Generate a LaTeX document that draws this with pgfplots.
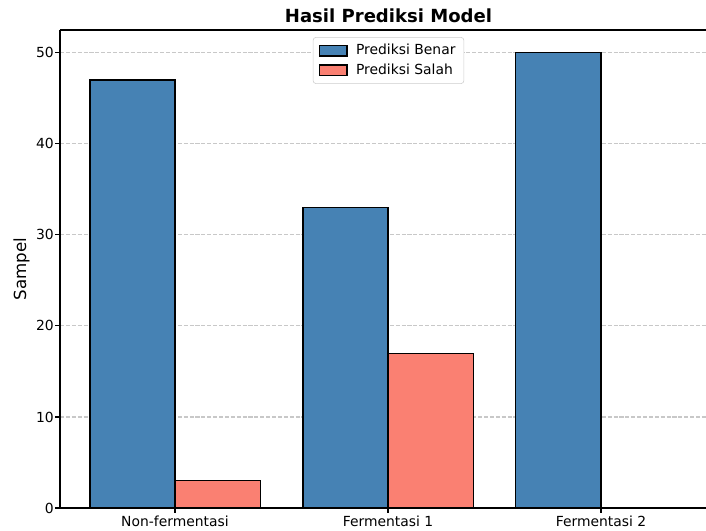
\documentclass[border=0pt]{standalone}
\usepackage{pgfplots}
\pgfplotsset{compat=1.18}
\usepackage{fontspec}
\setmainfont{DejaVu Sans}
\definecolor{steelblue}{RGB}{70,130,180}
\definecolor{salmon}{RGB}{250,128,114}
\definecolor{gridgray}{RGB}{200,200,200}
\pgfplotsset{mylegend/.style={legend image code/.code={\draw[##1, sharp corners, line width=0.8pt] (-2pt,-3.8pt) rectangle (18pt,3.8pt); \path (22pt,0pt);}}}
\begin{document}
\begin{tikzpicture}
\begin{axis}[
  at={(0pt,0pt)}, anchor=south west,
  scale only axis,
  width=465.12pt, height=344.16pt,
  xmin=-0.54, xmax=2.493, ymin=0, ymax=52.5,
  axis x line*=box, axis y line*=left,
  axis line style={-, black, line width=0.8pt},
  xtick={0,1,2}, xticklabels={Non-fermentasi, Fermentasi 1, Fermentasi 2},
  ytick={0,10,20,30,40,50},
  xtick pos=bottom, ytick pos=left,
  tick align=outside,
  major tick length=3.5pt,
  tick style={black, line width=0.8pt},
  ymajorgrids,
  grid style={gridgray, line width=0.8pt, dash pattern=on 2.96pt off 1.28pt},
  /pgf/number format/assume math mode=true,
  ticklabel style={font=\fontsize{10}{12}\selectfont},
  xticklabel style={yshift=1pt},
  yticklabel style={xshift=2.5pt},
  ylabel={Sampel},
  ylabel style={font=\fontsize{12}{14}\selectfont, yshift=-2.3pt},
  title={Hasil Prediksi Model},
  title style={font=\bfseries\fontsize{13}{15}\selectfont, at={(axis description cs:0.5085,1)}, yshift=-4.3pt},
  legend style={at={(0.5085,0.985)}, anchor=north, draw=gray!40, rounded corners=2pt,
    font=\fontsize{10}{12}\selectfont, cells={anchor=west}, row sep=1pt, inner xsep=4pt, inner ysep=3pt},
]
\addplot[ybar, bar width=0.4, bar shift=-0.2, fill=steelblue, draw=black, line width=1pt, mylegend]
  coordinates {(0,47) (1,33) (2,50)};
\addlegendentry{Prediksi Benar}
\addplot[ybar, bar width=0.4, bar shift=0.2, fill=salmon, draw=black, line width=1pt, mylegend]
  coordinates {(0,3) (1,17) (2,0)};
\addlegendentry{Prediksi Salah}
\end{axis}
\pgfresetboundingbox
\path[use as bounding box] (-43.2pt,-16.56pt) rectangle (465.12pt,365.76pt);
\end{tikzpicture}
\end{document}
